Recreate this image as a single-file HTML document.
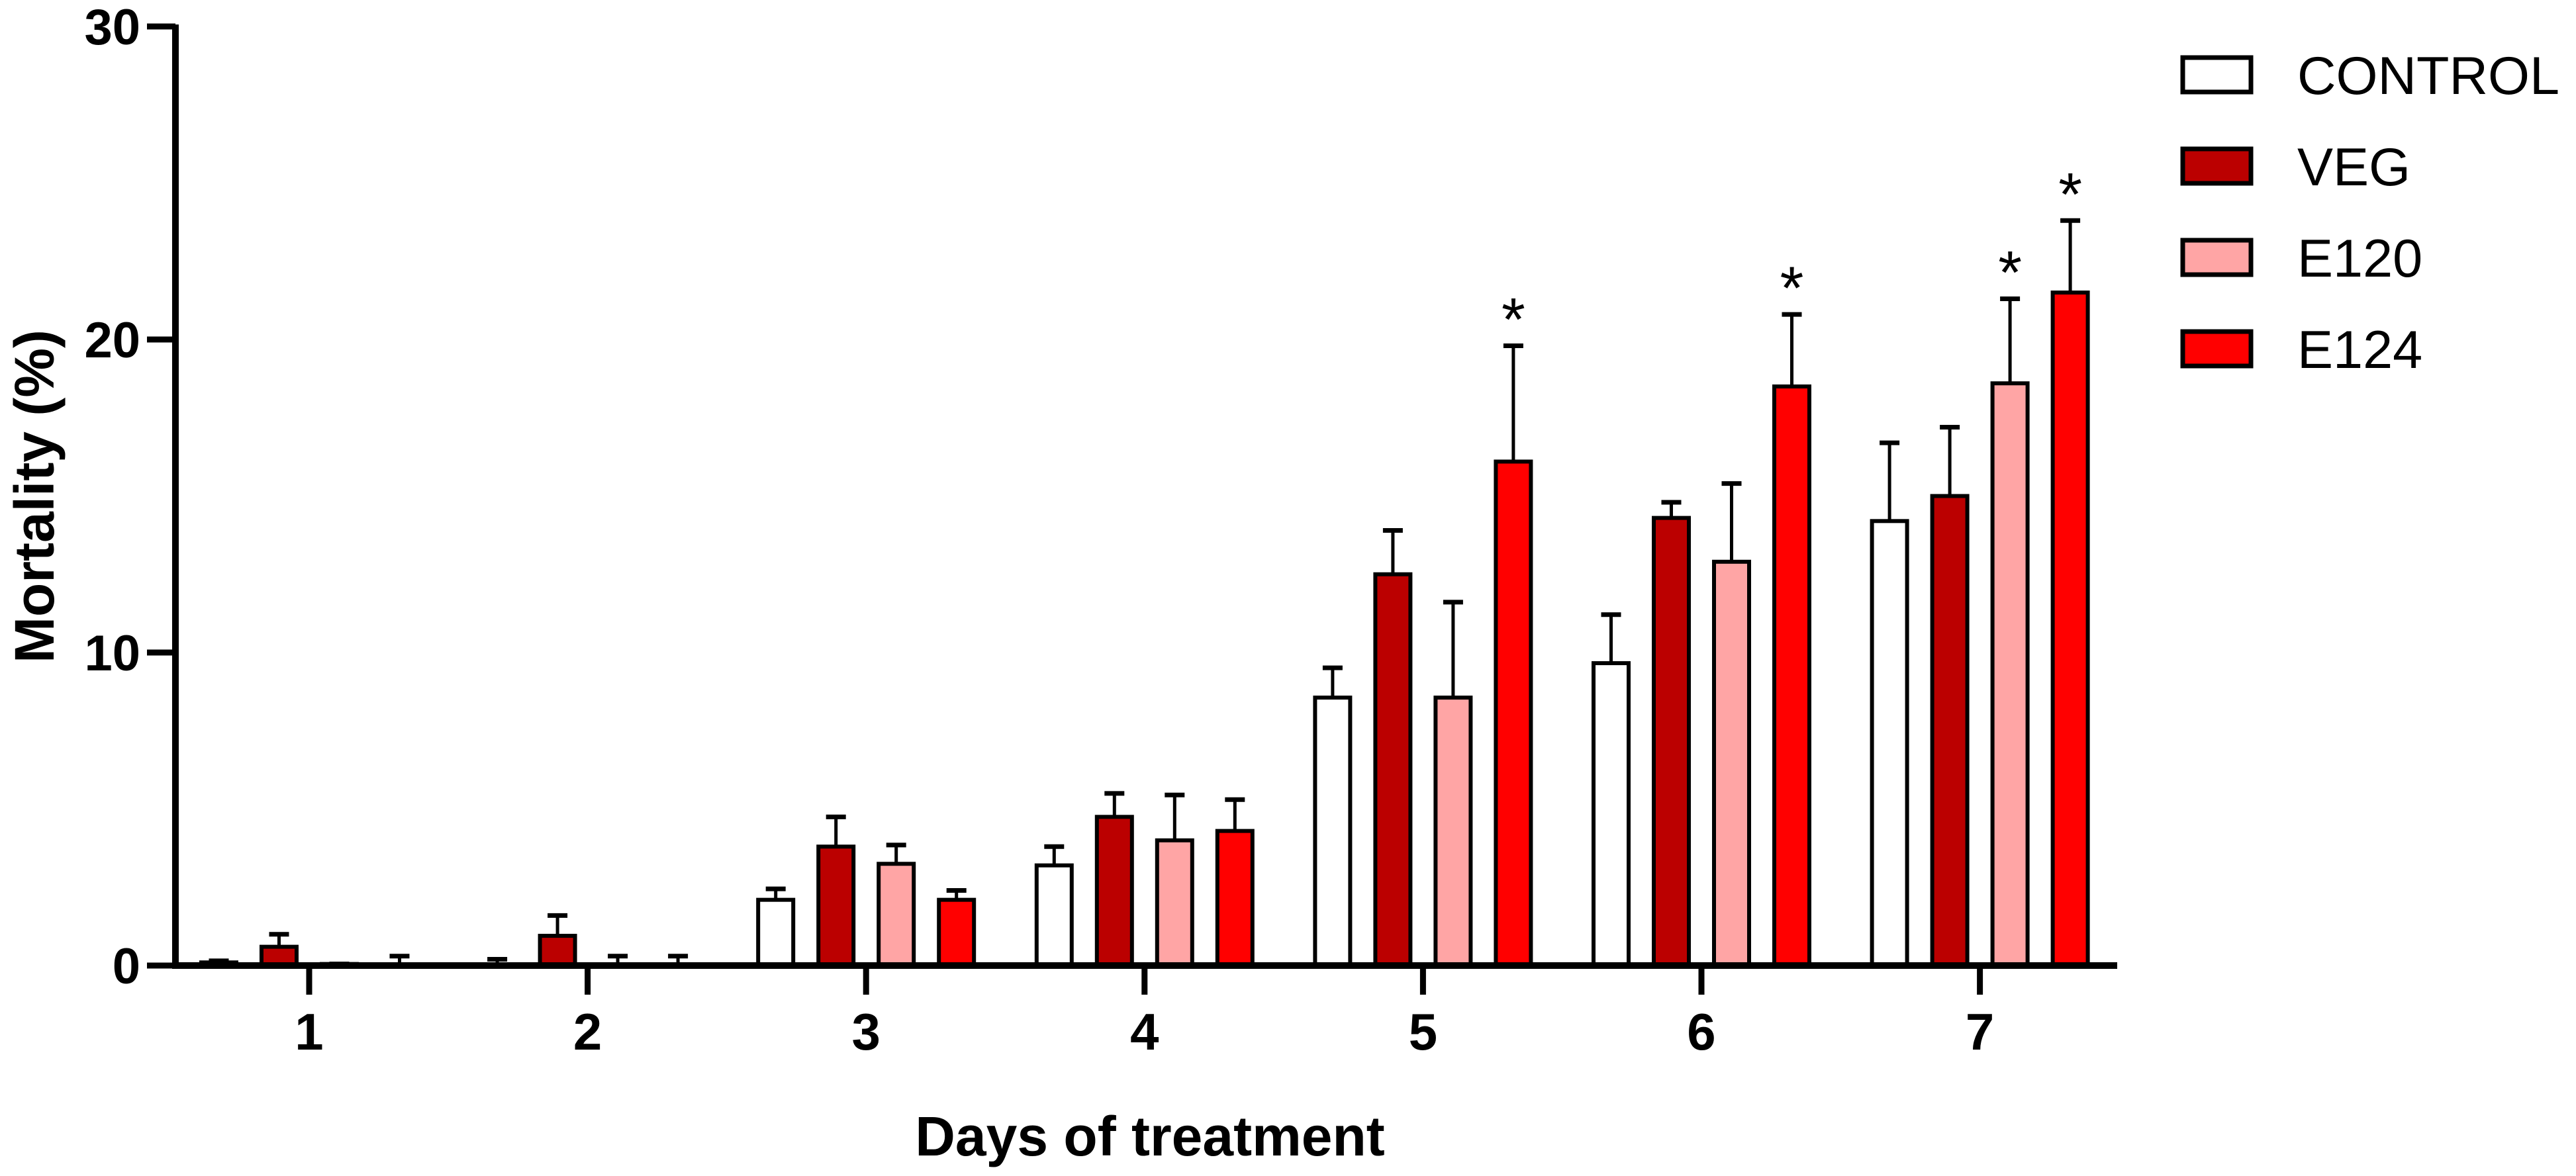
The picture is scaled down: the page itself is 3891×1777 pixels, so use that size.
<!DOCTYPE html>
<html><head><meta charset="utf-8"><style>
html,body{margin:0;padding:0;background:#fff;}
svg{display:block;font-family:"Liberation Sans",Arial,sans-serif;}
</style></head><body>
<svg id="chart" width="3891" height="1777" viewBox="0 0 3891 1777">
<g id="bars"></g>
<g id="axes"></g>
<g id="legend"></g>
</svg>
<script>
const days = ["1","2","3","4","5","6","7"];
const seriesNames = ["CONTROL","VEG","E120","E124"];
const seriesColors = ["#ffffff","#bb0000","#ffa5a5","#ff0000"];
const controlVals = [0.1,0,2.1,3.2,8.56,9.66,14.2];
const controlErr  = [0.05,0.2,0.35,0.6,0.95,1.55,2.5];
const vegVals = [0.6,0.95,3.8,4.75,12.5,14.3,15.0];
const vegErr  = [0.4,0.65,0.95,0.75,1.4,0.5,2.2];
const e120Vals = [0.05,0,3.25,4.0,8.56,12.9,18.6];
const e120Err  = [0,0.3,0.6,1.45,3.05,2.5,2.7];
const e124Vals = [0,0,2.1,4.3,16.1,18.5,21.5];
const e124Err  = [0.3,0.3,0.3,1.0,3.7,2.3,2.3];
const significant = [[],[],[],[],[3],[3],[2,3]];
const yTicks = [0,10,20,30];

const vals=[controlVals,vegVals,e120Vals,e124Vals];
const errs=[controlErr,vegErr,e120Err,e124Err];
const NS="http://www.w3.org/2000/svg";
const X0=467, XSTEP=420.6, BARPITCH=91, BARW=53;
const Y0=1459, PXU=47.3;
function xDay(i){return X0+i*XSTEP;}
function yVal(v){return Y0-v*PXU;}
function mk(tag,attrs,parent){const e=document.createElementNS(NS,tag);for(const k in attrs)e.setAttribute(k,attrs[k]);parent.appendChild(e);return e;}
const gb=document.getElementById('bars'), ga=document.getElementById('axes'), gl=document.getElementById('legend');

for(let d=0;d<days.length;d++){
  for(let s=0;s<4;s++){
    const cx=xDay(d)+(s-1.5)*BARPITCH;
    const v=vals[s][d], e=errs[s][d];
    const top=yVal(v+e);
    const ln=mk('line',{x1:cx,x2:cx,y1:yVal(v),y2:top,stroke:'#000','stroke-width':5},gb);
    
    
    const cap=mk('line',{x1:cx-15,x2:cx+15,y1:top,y2:top,stroke:'#000','stroke-width':7},gb);
    
    
    const h=v*PXU;
    if(h>0.5){
      const r=mk('rect',{x:cx-BARW/2,y:yVal(v),width:BARW,height:h,fill:seriesColors[s],stroke:'#000','stroke-width':6},gb);
      
      
    }
    if(significant[d].indexOf(s)>=0){
      const t=mk('text',{x:cx,y:top-8,'font-size':92,'text-anchor':'middle',fill:'#000'},gb);
      t.textContent='*';
      
      
    }
  }
}
const ya=mk('line',{x1:265,x2:265,y1:37,y2:1464,stroke:'#000','stroke-width':10},ga);


const xa=mk('line',{x1:260,x2:3198,y1:Y0,y2:Y0,stroke:'#000','stroke-width':10},ga);


yTicks.forEach(t=>{
  const y=yVal(t);
  const l=mk('line',{x1:222,x2:265,y1:y,y2:y,stroke:'#000','stroke-width':9},ga);
  
  
  const tx=mk('text',{x:212,y:y+27,'font-size':76,'font-weight':'bold','text-anchor':'end'},ga);
  tx.textContent=t;
  
  
});
days.forEach((d,i)=>{
  const x=xDay(i);
  const l=mk('line',{x1:x,x2:x,y1:Y0,y2:1503,stroke:'#000','stroke-width':9},ga);
  
  
  const tx=mk('text',{x:x,y:1586,'font-size':78,'font-weight':'bold','text-anchor':'middle'},ga);
  tx.textContent=d;
  
  
});
const yt=mk('text',{x:0,y:0,'font-size':84,'font-weight':'bold','text-anchor':'middle',transform:'translate(81,750) rotate(-90)'},ga);
yt.textContent='Mortality (%)';


const xt=mk('text',{x:1737,y:1746,'font-size':84,'font-weight':'bold','text-anchor':'middle'},ga);
xt.textContent='Days of treatment';


seriesNames.forEach((n,i)=>{
  const y=87+i*138;
  const r=mk('rect',{x:3297,y:y,width:103,height:52,fill:seriesColors[i],stroke:'#000','stroke-width':7},gl);
  
  
  const t=mk('text',{x:3470,y:y+55,'font-size':81,fill:'#000'},gl);
  t.textContent=n;
  
  
});
</script>
</body></html>
